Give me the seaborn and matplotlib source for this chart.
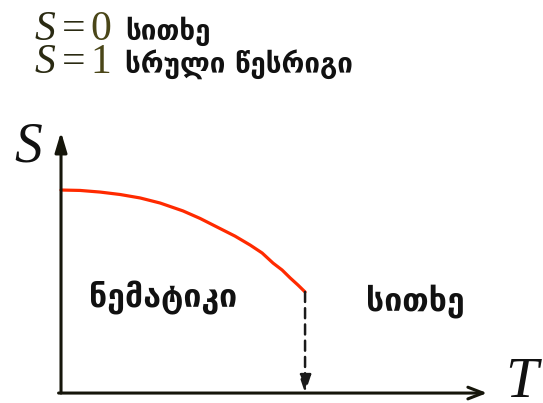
import matplotlib
matplotlib.use('Agg')
import matplotlib.pyplot as plt
import seaborn as sns
import pandas as pd

# order parameter S versus temperature T (schematic, T in units of Tc)
T_vals = [0.0, 0.078, 0.16, 0.242, 0.324, 0.406, 0.50, 0.57, 0.639,
          0.713, 0.775, 0.824, 0.869, 0.906, 0.939, 0.971, 1.0]
S_vals = [1.0, 0.998, 0.990, 0.978, 0.961, 0.936, 0.897, 0.860, 0.818,
          0.773, 0.729, 0.690, 0.640, 0.606, 0.567, 0.532, 0.498]
T_c = 1.0
T_axis_end = 1.746
S_axis_end = 1.286

legend_values = ["0", "1"]
legend_labels = ["სითხე", "სრული წესრიგი"]
phase_left = "ნემატიკი"
phase_right = "სითხე"

df = pd.DataFrame({"T": T_vals, "S": S_vals})

sns.set_theme(style="white")
plt.rcParams['font.family'] = ['DejaVu Sans']

fig = plt.figure(figsize=(5.43, 4.03), dpi=100)
ax = fig.add_axes([0, 0, 1, 1])
ax.set_xlim(-0.25, 1.975)
ax.set_ylim(-0.049, 1.936)
ax.axis('off')

axis_col = "#15150a"

# axes with arrows
ax.annotate("", xy=(0, S_axis_end), xytext=(0, 0),
            arrowprops=dict(arrowstyle="-|>,head_length=1.0,head_width=0.3",
                            color=axis_col, lw=2.2, shrinkA=0, shrinkB=0))
ax.annotate("", xy=(T_axis_end, 0), xytext=(-0.01, 0),
            arrowprops=dict(arrowstyle="->,head_length=0.9,head_width=0.35",
                            color=axis_col, lw=2.2, shrinkA=0, shrinkB=0))

# S(T) curve
sns.lineplot(data=df, x="T", y="S", ax=ax, color="#ff2a00", lw=2.3, sort=False)

# dashed drop at Tc
ax.annotate("", xy=(T_c, 0), xytext=(T_c, S_vals[-1]),
            arrowprops=dict(arrowstyle="-|>,head_length=0.9,head_width=0.3",
                            color="#1a1a1a", lw=1.8, ls=(0, (4, 2.5)),
                            shrinkA=0, shrinkB=0))

serif = "Liberation Serif"
ax.text(-0.135, 1.14, "S", fontsize=40, fontstyle="italic", family=serif,
        ha="center", va="baseline", color="#111111")
ax.text(1.885, -0.018, "T", fontsize=42, fontstyle="italic", family=serif,
        ha="center", va="baseline", color="#111111")

# legend block at the top (two rows per text object)
top_y = 1.885
ax.text(-0.107, top_y, "\n".join(["S"] * len(legend_values)), fontsize=30,
        fontstyle="italic", family=serif, ha="left", va="top",
        linespacing=0.82, color="#2a2a12")
ax.text(0.005, top_y, "\n".join(["="] * len(legend_values)), fontsize=30,
        family=serif, ha="left", va="top", linespacing=0.82, color="#2a2a12")
ax.text(0.12, top_y, "\n".join(legend_values), fontsize=30, family=serif,
        ha="left", va="top", linespacing=0.82, color="#4a4618")
ax.text(0.262, top_y - 0.03, "\n".join(legend_labels), fontsize=20,
        fontweight="bold", ha="left", va="top", linespacing=1.12,
        color="#111111")

ax.text(0.418, 0.424, phase_left, fontsize=23, fontweight="bold",
        ha="center", va="baseline", color="#111111")
ax.text(1.451, 0.405, phase_right, fontsize=23, fontweight="bold",
        ha="center", va="baseline", color="#111111")

fig.savefig("out.png", dpi=100)
